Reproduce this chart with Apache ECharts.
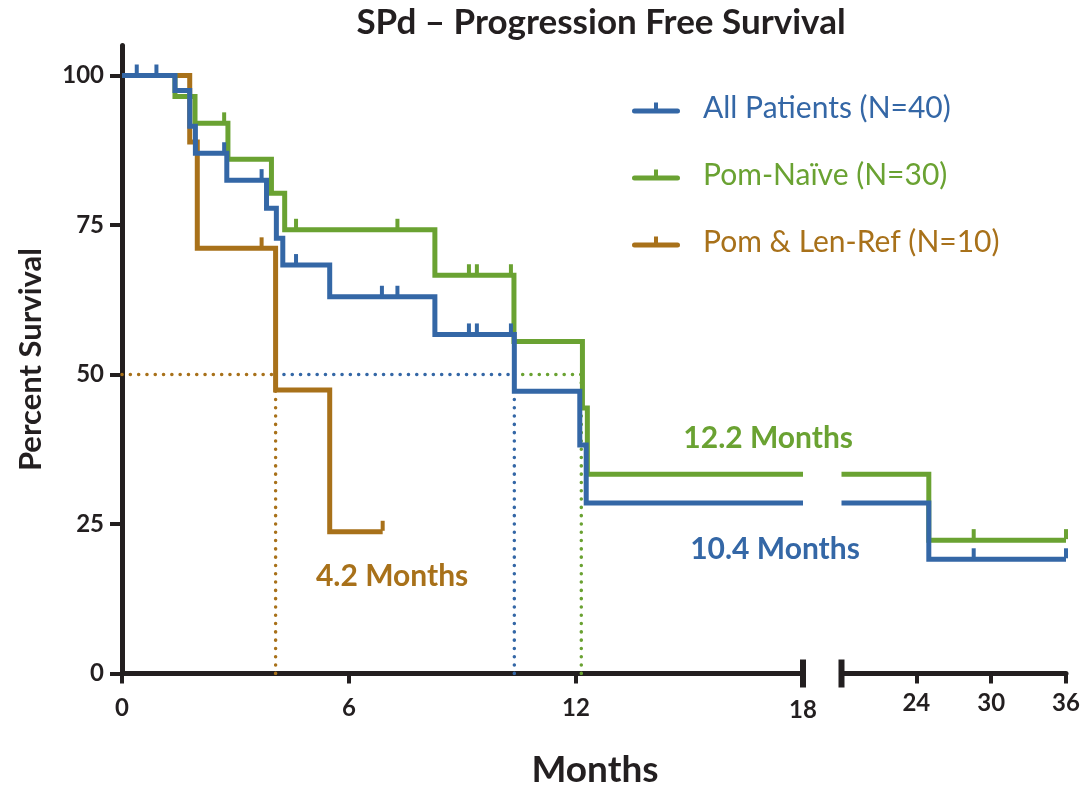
<!DOCTYPE html>
<html><head><meta charset="utf-8">
<script src="https://cdn.jsdelivr.net/npm/echarts@6/dist/echarts.min.js"></script>
<style>html,body{margin:0;padding:0;background:#fff}#c{width:1083px;height:785px}</style>
</head><body><div id="c"></div>
<script>
// ---- data ----
const seriesNames = ['All Patients (N=40)', 'Pom-Naïve (N=30)', 'Pom & Len-Ref (N=10)'];
const allLeft = [[0,100],[1.40,97.5],[1.79,91.5],[1.94,87.0],[2.77,82.5],[3.82,77.8],[4.08,72.8],[4.25,68.3],[5.49,63.0],[8.27,56.7],[10.37,47.2],[12.10,38.2],[12.27,28.5],[18,28.5]];
const allRight = [[18,28.5],[25.0,19.1],[36,19.1]];
const allCensor = [[0.39,100],[0.91,100],[2.70,87.0],[3.69,82.5],[4.60,68.3],[6.87,63.0],[7.28,63.0],[9.17,56.7],[9.38,56.7],[10.28,56.7]];
const allCensorRight = [[28.6,19.1],[36,19.1]];
const naiveLeft = [[0,100],[1.40,96.5],[1.93,92.0],[2.80,86.0],[3.95,80.3],[4.30,74.2],[8.27,66.6],[10.36,55.5],[12.17,44.4],[12.30,33.3],[18,33.3]];
const naiveRight = [[18,33.3],[25.0,22.3],[36,22.3]];
const naiveCensor = [[2.70,92.0],[4.60,74.2],[7.28,74.2],[9.17,66.6],[9.38,66.6],[10.28,66.6]];
const naiveCensorRight = [[28.6,22.3],[36,22.3]];
const refLeft = [[0,100],[1.79,88.9],[1.99,71.1],[4.06,47.4],[5.49,23.7],[6.89,23.7]];
const refCensor = [[3.69,71.1],[6.89,23.7]];
const medianX = [4.06, 10.37, 12.14];   // orange, blue, green median crossings
const medianLevel = 50;
const medianLabels = ['4.2 Months', '10.4 Months', '12.2 Months'];
const yTicks = [0, 25, 50, 75, 100];
const xTicksLeft = [0, 6, 12];
const xLabelsLeft = [0, 6, 12, 18];
const xTicksRight = [24, 30, 36];

// ---- styles ----
const BLUE = '#3467a6', GREEN = '#6aa232', ORANGE = '#a8711a', INK = '#231f20';
const FONT = 'Lato';
const LW = 5;

const chart = echarts.init(document.getElementById('c'));

function stepLine(name, data, color, gi, z) {
  return { name, type: 'line', step: 'end', xAxisIndex: gi, yAxisIndex: gi, data,
    symbol: 'none', lineStyle: { color, width: LW, cap: 'butt', join: 'miter' }, itemStyle: { color }, z, animation: false };
}
function censor(name, data, color, gi) {
  return { name, type: 'scatter', xAxisIndex: gi, yAxisIndex: gi, data, symbol: 'rect',
    symbolSize: [4, 10], symbolOffset: [0, -6], itemStyle: { color, opacity: 1 }, z: 5, animation: false, silent: true };
}
function dotted(data, color) {
  return { type: 'line', xAxisIndex: 0, yAxisIndex: 0, data, symbol: 'none', z: 1, animation: false, silent: true,
    lineStyle: { color, width: 3.5, type: [0.1, 8.2], cap: 'round' } };
}
const medColors = [ORANGE, BLUE, GREEN];
const dottedSeries = [];
medianX.forEach((mx, i) => {
  const startX = i === 0 ? 0 : medianX[i - 1];
  dottedSeries.push(dotted([[startX, medianLevel], [mx, medianLevel]], medColors[i]));
  dottedSeries.push(dotted([[mx, medianLevel], [mx, 0]], medColors[i]));
});

const legendIcon = 'path://M2.5,6H45.5A2.5,2.5 0 0 1 45.5,11H2.5A2.5,2.5 0 0 1 2.5,6Z M22,0H26V6H22Z';

const axisLineStyle = { color: INK, width: LW };
const labelStyle = { color: INK, fontFamily: FONT, fontWeight: 'bold', fontSize: 24 };

chart.setOption({
  backgroundColor: '#fff',
  animation: false,
  title: { text: 'SPd – Progression Free Survival', left: 596, top: 0, textAlign: 'center',
    textStyle: { fontFamily: FONT, fontWeight: 'bold', fontSize: 35, color: INK } },
  legend: {
    orient: 'vertical', left: 632, top: 91, padding: 0, itemWidth: 48, itemHeight: 11, itemGap: 33,
    selectedMode: false,
    textStyle: { fontFamily: FONT, fontSize: 30, lineHeight: 34, padding: [0, 0, 0, 18] },
    data: [
      { name: seriesNames[0], icon: legendIcon, itemStyle: { color: BLUE }, textStyle: { color: BLUE } },
      { name: seriesNames[1], icon: legendIcon, itemStyle: { color: GREEN }, textStyle: { color: GREEN } },
      { name: seriesNames[2], icon: legendIcon, itemStyle: { color: ORANGE }, textStyle: { color: ORANGE } }
    ]
  },
  grid: [
    { left: 122, top: 45.6, width: 681, height: 627.9 },
    { left: 841.5, top: 45.6, width: 224.5, height: 627.9 }
  ],
  xAxis: [
    { type: 'value', gridIndex: 0, min: 0, max: 18, interval: 6, splitLine: { show: false },
      axisLine: { lineStyle: axisLineStyle },
      axisTick: { customValues: xTicksLeft, length: 10, lineStyle: { color: INK, width: 4 } },
      axisLabel: Object.assign({ customValues: xLabelsLeft, margin: 23,
        formatter: v => v === 18 ? '{l|18}' : String(v), rich: { l: Object.assign({ padding: [2, 0, 0, 0] }, labelStyle) } }, labelStyle) },
    { type: 'value', gridIndex: 1, min: 18, max: 36, interval: 6, splitLine: { show: false },
      axisLine: { lineStyle: axisLineStyle },
      axisTick: { customValues: xTicksRight, length: 10, lineStyle: { color: INK, width: 4 } },
      axisLabel: Object.assign({ customValues: xTicksRight, margin: 18 }, labelStyle) }
  ],
  yAxis: [
    { type: 'value', gridIndex: 0, min: 0, max: 105, interval: 25, splitLine: { show: false },
      axisLine: { show: true, lineStyle: axisLineStyle },
      axisTick: { show: true, customValues: yTicks, length: 12, lineStyle: { color: INK, width: 4 } },
      axisLabel: Object.assign({ customValues: yTicks, margin: 18 }, labelStyle),
      name: 'Percent Survival', nameLocation: 'middle', nameRotate: 90, nameGap: 76,
      nameTextStyle: { fontFamily: FONT, fontWeight: 'bold', fontSize: 31, color: INK } },
    { type: 'value', gridIndex: 1, min: 0, max: 105, show: false }
  ],
  series: [
    ...dottedSeries,
    stepLine(seriesNames[2], refLeft, ORANGE, 0, 2),
    stepLine(seriesNames[1], naiveLeft, GREEN, 0, 3),
    stepLine(seriesNames[1], naiveRight, GREEN, 1, 3),
    stepLine(seriesNames[0], allLeft, BLUE, 0, 4),
    stepLine(seriesNames[0], allRight, BLUE, 1, 4),
    censor(seriesNames[2], refCensor, ORANGE, 0),
    censor(seriesNames[1], naiveCensor, GREEN, 0),
    censor(seriesNames[1], naiveCensorRight, GREEN, 1),
    censor(seriesNames[0], allCensor, BLUE, 0),
    censor(seriesNames[0], allCensorRight, BLUE, 1)
  ]
});

// decorations positioned through the axes' scales
const p = (gi, x, y) => chart.convertToPixel({ gridIndex: gi }, [x, y]);
const breakL = p(0, 18, 0), breakR = p(1, 18, 0);
const annot = [
  { t: medianLabels[2], c: GREEN, at: p(0, 17.08, 39.4) },
  { t: medianLabels[1], c: BLUE, at: p(0, 17.26, 20.8) },
  { t: medianLabels[0], c: ORANGE, at: p(0, 7.14, 16.3) }
];
chart.setOption({
  graphic: [
    { type: 'rect', shape: { x: breakL[0] - 3, y: breakL[1] - 14, width: 6, height: 28 }, style: { fill: INK }, z: 10 },
    { type: 'rect', shape: { x: breakR[0] - 3, y: breakR[1] - 14, width: 6, height: 28 }, style: { fill: INK }, z: 10 },
    ...annot.map(a => ({ type: 'text', x: a.at[0], y: a.at[1], z: 10,
      style: { text: a.t, fill: a.c, align: 'center', verticalAlign: 'middle', fontFamily: FONT, fontWeight: 'bold', fontSize: 30 } })),
    { type: 'text', x: 595, y: 770, z: 10,
      style: { text: 'Months', fill: INK, align: 'center', verticalAlign: 'middle', fontFamily: FONT, fontWeight: 'bold', fontSize: 37 } }
  ]
});
</script></body></html>
